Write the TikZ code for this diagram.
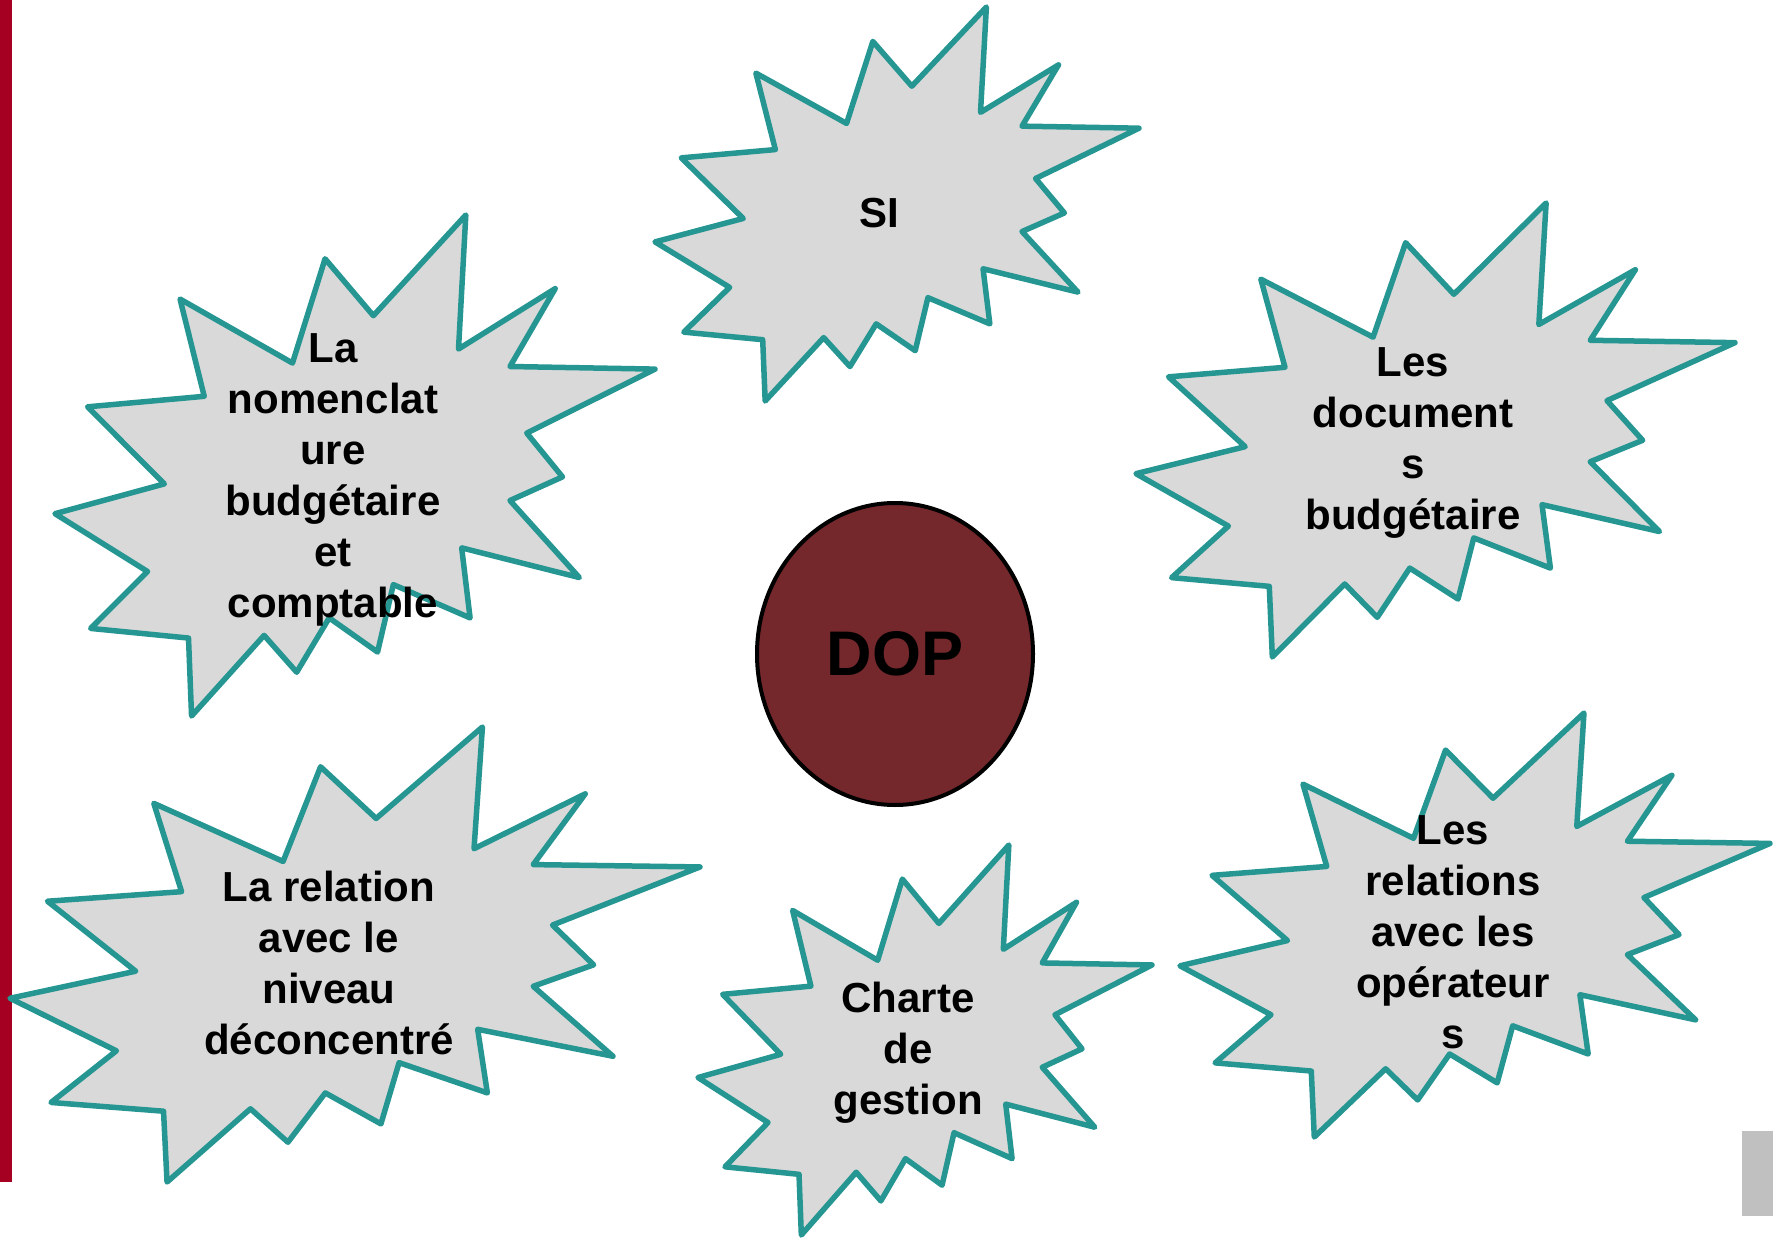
\documentclass[tikz,border=0pt]{standalone}
\usepackage{fontspec}
\setmainfont{Liberation Sans}
\usetikzlibrary{shapes.geometric}
\definecolor{sealfill}{RGB}{217,217,217}
\definecolor{sealline}{RGB}{38,150,146}
\definecolor{dopred}{RGB}{116,40,44}
\definecolor{barred}{RGB}{165,0,33}
\definecolor{boxgray}{RGB}{192,192,192}
\tikzset{
  sealstyle/.style={fill=sealfill, draw=sealline, line width=5.5pt, line join=round},
  lbl/.style={align=center, inner sep=0pt, anchor=base, font=\bfseries\fontsize{42}{51}\selectfont},
}
\newcommand\drawseal[4]{%
  \begin{scope}[shift={(#1,#2)},xscale=#3,yscale=#4]
    \draw[sealstyle] (0.5306,0.2010) -- (0.6847,0) -- (0.6725,0.2675) -- (0.8337,0.1469)
      -- (0.7583,0.3024) -- (1,0.3076) -- (0.7863,0.4353) -- (0.8458,0.5227)
      -- (0.7583,0.5699) -- (0.8739,0.7237) -- (0.6778,0.6644) -- (0.6918,0.8042)
      -- (0.5639,0.7377) -- (0.5376,0.8723) -- (0.4570,0.8042) -- (0.4028,0.9126)
      -- (0.3485,0.8391) -- (0.2276,1) -- (0.2225,0.8444) -- (0.0595,0.8252)
      -- (0.1542,0.7116) -- (0,0.5962) -- (0.1822,0.5367) -- (0.0543,0.3829)
      -- (0.2487,0.3619) -- (0.2084,0.1678) -- (0.3958,0.2955) -- (0.4501,0.0874) -- cycle;
  \end{scope}}
\begin{document}
\begin{tikzpicture}[x=1pt,y=-1pt]
\useasboundingbox[fill=white] (0,0) rectangle (1781,1238);
\fill[barred] (0,0) rectangle (12,1182);
\fill[boxgray] (1742,1131) rectangle (1773,1216);
% SI
\drawseal{655}{7}{484}{394}
\node[lbl] (si) at (879,228) {SI};
% Nomenclature (base = last line)
\drawseal{55}{215}{600}{501}
\node[lbl] (nomen) at (333,617) {La\\nomenclat\\ure\\budgétaire\\et\\comptable};
% Documents
\drawseal{1136}{203}{599}{454}
\node[lbl] (docs) at (1413,529) {Les\\document\\s\\budgétaire};
% Relation niveau
\drawseal{10}{727}{690}{455}
\node[lbl] (niveau) at (329,1054) {La relation\\avec le\\niveau\\déconcentré};
% Charte
\drawseal{698}{845}{454}{390}
\node[lbl] (charte) at (908,1114) {Charte\\de\\gestion};
% Operateurs
\drawseal{1180}{713}{590}{424}
\node[lbl] (oper) at (1453,1048) {Les\\relations\\avec les\\opérateur\\s};
% DOP
\node[ellipse, draw=black, line width=4pt, fill=dopred, minimum width=276pt, minimum height=302pt, inner sep=0pt,
      font=\bfseries\fontsize{63}{72}\selectfont] (dop) at (895,654) {DOP};
\end{tikzpicture}
\end{document}
